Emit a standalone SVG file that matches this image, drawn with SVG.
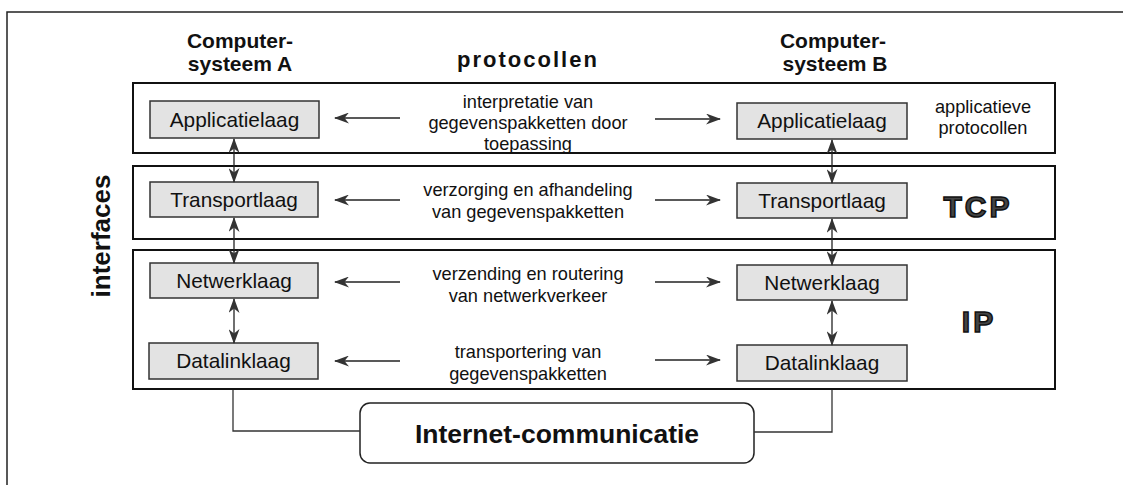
<svg xmlns="http://www.w3.org/2000/svg" width="1123" height="485" viewBox="0 0 1123 485">
<style>
.frame{fill:none;stroke:#222;stroke-width:1.5}
.layer{fill:#fff;stroke:#111;stroke-width:2}
.box{fill:#e3e3e3;stroke:#333;stroke-width:1.5}
.lbl{font-family:"Liberation Sans",Arial,sans-serif;font-size:20.8px;fill:#111;text-anchor:middle}
.mid{font-family:"Liberation Sans",Arial,sans-serif;font-size:18.2px;fill:#111;text-anchor:middle}
.hd{font-family:"Liberation Sans",Arial,sans-serif;font-size:21px;font-weight:bold;fill:#111;text-anchor:middle}
.big{font-family:"Liberation Sans",Arial,sans-serif;font-size:30px;font-weight:bold;fill:#444;stroke:#111;stroke-width:1.5;letter-spacing:3px;text-anchor:middle}
.arr{fill:none;stroke:#222;stroke-width:1.3}
.conn{fill:none;stroke:#333;stroke-width:1.3}
</style>
<defs>
<marker id="ah" viewBox="0 0 15 11" refX="14" refY="5.5" markerWidth="15" markerHeight="11" markerUnits="userSpaceOnUse" orient="auto-start-reverse">
<path d="M0,0 L15,5.5 L0,11 L4.5,5.5 z" fill="#333"/>
</marker>
</defs>

<g id="frame">
<path class="frame" d="M7,485 L7,12 L1123,12"/>
</g>

<g id="headers">
<text class="hd" x="240" y="48">Computer-</text>
<text class="hd" x="240" y="71">systeem A</text>
<text class="hd" x="833" y="48">Computer-</text>
<text class="hd" x="835" y="71">systeem B</text>
<text x="528" y="67" font-family="Liberation Sans,Arial,sans-serif" font-size="22" font-weight="bold" letter-spacing="2" fill="#111" text-anchor="middle">protocollen</text>
<text transform="translate(110,236) rotate(-90)" font-family="Liberation Sans,Arial,sans-serif" font-size="26" font-weight="bold" fill="#111" text-anchor="middle">interfaces</text>
</g>

<g id="layer-app">
<rect class="layer" x="133" y="83" width="922" height="70"/>
<text class="mid" x="983" y="113" font-size="18">applicatieve</text>
<text class="mid" x="983" y="134" font-size="18">protocollen</text>
</g>
<g id="layer-tcp">
<rect class="layer" x="133" y="166" width="922" height="73"/>
<text class="big" x="978" y="217">TCP</text>
</g>
<g id="layer-ip">
<rect class="layer" x="133" y="250" width="922" height="139"/>
<text class="big" x="979" y="332">IP</text>
</g>

<g id="a-app"><rect class="box" x="150" y="101" width="169" height="37"/><text class="lbl" x="234.5" y="127">Applicatielaag</text></g>
<g id="a-trans"><rect class="box" x="150" y="182" width="168" height="35"/><text class="lbl" x="234" y="207">Transportlaag</text></g>
<g id="a-net"><rect class="box" x="150" y="263" width="168" height="35"/><text class="lbl" x="234" y="288">Netwerklaag</text></g>
<g id="a-data"><rect class="box" x="149" y="343" width="169" height="36"/><text class="lbl" x="233.5" y="368">Datalinklaag</text></g>

<g id="b-app"><rect class="box" x="737" y="103" width="170" height="36"/><text class="lbl" x="822" y="128">Applicatielaag</text></g>
<g id="b-trans"><rect class="box" x="737" y="183" width="170" height="35"/><text class="lbl" x="822" y="208">Transportlaag</text></g>
<g id="b-net"><rect class="box" x="737" y="265" width="170" height="35"/><text class="lbl" x="822" y="290">Netwerklaag</text></g>
<g id="b-data"><rect class="box" x="737" y="345" width="170" height="36"/><text class="lbl" x="822" y="370">Datalinklaag</text></g>

<g id="middle-texts">
<text class="mid" x="528" y="108">interpretatie van</text>
<text class="mid" x="528" y="129">gegevenspakketten door</text>
<text class="mid" x="528" y="150">toepassing</text>
<text class="mid" x="528" y="196">verzorging en afhandeling</text>
<text class="mid" x="528" y="218">van gegevenspakketten</text>
<text class="mid" x="528" y="280">verzending en routering</text>
<text class="mid" x="528" y="302">van netwerkverkeer</text>
<text class="mid" x="528" y="358">transportering van</text>
<text class="mid" x="528" y="380">gegevenspakketten</text>
</g>

<g id="internet">
<rect x="360" y="403" width="394" height="60" rx="10" ry="10" fill="#fff" stroke="#222" stroke-width="1.5"/>
<text x="557" y="443" font-family="Liberation Sans,Arial,sans-serif" font-size="26.5" font-weight="bold" fill="#111" text-anchor="middle">Internet-communicatie</text>
</g>

<g id="connectors">
<line class="arr" x1="400" y1="118" x2="335" y2="118" marker-end="url(#ah)"/>
<line class="arr" x1="655" y1="119" x2="720" y2="119" marker-end="url(#ah)"/>
<line class="arr" x1="400" y1="200" x2="335" y2="200" marker-end="url(#ah)"/>
<line class="arr" x1="655" y1="200" x2="720" y2="200" marker-end="url(#ah)"/>
<line class="arr" x1="400" y1="282" x2="335" y2="282" marker-end="url(#ah)"/>
<line class="arr" x1="655" y1="282" x2="720" y2="282" marker-end="url(#ah)"/>
<line class="arr" x1="400" y1="361" x2="335" y2="361" marker-end="url(#ah)"/>
<line class="arr" x1="655" y1="360" x2="720" y2="360" marker-end="url(#ah)"/>
<line class="arr" x1="234" y1="139" x2="234" y2="182" marker-start="url(#ah)" marker-end="url(#ah)"/>
<line class="arr" x1="234" y1="218" x2="234" y2="263" marker-start="url(#ah)" marker-end="url(#ah)"/>
<line class="arr" x1="234" y1="299" x2="234" y2="343" marker-start="url(#ah)" marker-end="url(#ah)"/>
<line class="arr" x1="832" y1="140" x2="832" y2="183" marker-start="url(#ah)" marker-end="url(#ah)"/>
<line class="arr" x1="832" y1="219" x2="832" y2="265" marker-start="url(#ah)" marker-end="url(#ah)"/>
<line class="arr" x1="832" y1="301" x2="832" y2="345" marker-start="url(#ah)" marker-end="url(#ah)"/>
<path class="conn" d="M233,390 L233,431 L360,431"/>
<path class="conn" d="M832,390 L832,432 L754,432"/>
</g>
</svg>
